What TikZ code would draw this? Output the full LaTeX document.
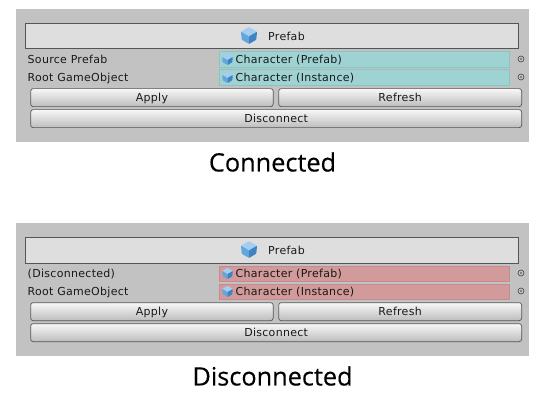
\documentclass[tikz,border=0pt]{standalone}
\usepackage{fontspec}
\setmainfont{DejaVu Sans}
\newfontfamily\uifont[LetterSpace=2.7]{DejaVu Sans}
\newfontfamily\titlefont[FakeBold=0.3]{Open Sans}
\usetikzlibrary{positioning,calc}
\definecolor{panelgray}{HTML}{C2C2C2}
\definecolor{headgray}{HTML}{DEDEDE}
\definecolor{edgegray}{HTML}{555555}
\definecolor{tealfill}{HTML}{9FD3D3}
\definecolor{tealedge}{HTML}{8CC4C2}
\definecolor{redfill}{HTML}{D29A9A}
\definecolor{rededge}{HTML}{C48C8C}
\definecolor{cubetop}{HTML}{A4CDF0}
\definecolor{cubeleft}{HTML}{62A6DE}
\definecolor{cuberight}{HTML}{3F83C4}
\tikzset{
  uitext/.style={font=\uifont\fontsize{11}{13}\selectfont,text=black!90,text height=9pt,text depth=1.6pt},
  panelbox/.style={fill=panelgray,draw=none,anchor=north west,inner sep=0pt,minimum width=513pt,minimum height=133pt},
  headbox/.style={fill=headgray,draw=edgegray,line width=0.7pt,anchor=north west,inner sep=0pt,minimum width=492.5pt,minimum height=25pt},
  fieldbox/.style={draw=#1edge,fill=#1fill,line width=0.9pt,anchor=north west,inner sep=0pt,minimum width=290pt,minimum height=15.5pt},
  btn/.style={uitext,rounded corners=2.5pt,draw=edgegray,line width=0.7pt,top color=white!97!black,bottom color=black!26,anchor=north west,inner sep=0pt,minimum height=18pt},
  rowlabel/.style={uitext,anchor=west,inner sep=0pt},
  pickdot/.style={circle,draw=black!75,line width=0.6pt,inner sep=0pt,minimum size=6pt},
  captiontext/.style={font=\titlefont\fontsize{25.3}{30}\selectfont,text=black,inner sep=0pt},
  cubeicon/.pic={
    \fill[cubetop,rounded corners=0.6pt] (0,-1) -- (0.95,-0.45) -- (0,0.1) -- (-0.95,-0.45) -- cycle;
    \fill[cubeleft,rounded corners=0.6pt] (-0.95,-0.45) -- (0,0.1) -- (0,1) -- (-0.85,0.5) -- cycle;
    \fill[cuberight,rounded corners=0.6pt] (0.95,-0.45) -- (0,0.1) -- (0,1) -- (0.85,0.5) -- cycle;
  },
}
\begin{document}
\begin{tikzpicture}[x=1pt,y=-1pt]
  \useasboundingbox (0,0) rectangle (544,417);
  % Connected
  \node[panelbox] (panelA) at (16,9) {};
  \node[headbox] (headA) at (25,23.5) {};
  \pic[scale=8.5] at (249,35.5) {cubeicon};
  \node[rowlabel] (prefabA) at (268,37) {Prefab};
  \node[rowlabel] (sourceA) at (27.5,59.5) {Source Prefab};
  \node[rowlabel] (rootA) at (27.5,77.5) {Root GameObject};
  \node[fieldbox=teal] (fieldA) at (219.3,51.5) {};
  \node[fieldbox=teal] (fieldB) at (219.3,69.5) {};
  \pic[scale=5.6] at (227.5,59.5) {cubeicon};
  \pic[scale=5.6] at (227.5,77.5) {cubeicon};
  \node[rowlabel] (charA) at (235.5,59.5) {Character (Prefab)};
  \node[rowlabel] (charB) at (235.5,77.5) {Character (Instance)};
  \node[pickdot] (dotA) at (521,59) {};
  \node[pickdot] (dotB) at (521,77) {};
  \fill[black!75] (dotA) circle (0.9pt) (dotB) circle (0.9pt);
  \node[btn,minimum width=242.5pt] (applyA) at (30.3,88.3) {Apply};
  \node[btn,minimum width=243pt] (refreshA) at (278.3,88.3) {Refresh};
  \node[btn,minimum width=491pt] (discoA) at (30.3,109.3) {Disconnect};
  \node[captiontext] (capA) at (272.5,162) {Connected};
  % Disconnected
  \node[panelbox] (panelB) at (16,223) {};
  \node[headbox] (headB) at (25,237.5) {};
  \pic[scale=8.5] at (249,249.5) {cubeicon};
  \node[rowlabel] (prefabB) at (268,251) {Prefab};
  \node[rowlabel] (sourceB) at (27.5,273.5) {(Disconnected)};
  \node[rowlabel] (rootB) at (27.5,291.5) {Root GameObject};
  \node[fieldbox=red] (fieldC) at (219.3,265.5) {};
  \node[fieldbox=red] (fieldD) at (219.3,283.5) {};
  \pic[scale=5.6] at (227.5,273.5) {cubeicon};
  \pic[scale=5.6] at (227.5,291.5) {cubeicon};
  \node[rowlabel] (charC) at (235.5,273.5) {Character (Prefab)};
  \node[rowlabel] (charD) at (235.5,291.5) {Character (Instance)};
  \node[pickdot] (dotC) at (521,273) {};
  \node[pickdot] (dotD) at (521,291) {};
  \fill[black!75] (dotC) circle (0.9pt) (dotD) circle (0.9pt);
  \node[btn,minimum width=242.5pt] (applyB) at (30.3,302.3) {Apply};
  \node[btn,minimum width=243pt] (refreshB) at (278.3,302.3) {Refresh};
  \node[btn,minimum width=491pt] (discoB) at (30.3,323.3) {Disconnect};
  \node[captiontext] (capB) at (272.5,376) {Disconnected};
\end{tikzpicture}
\end{document}
